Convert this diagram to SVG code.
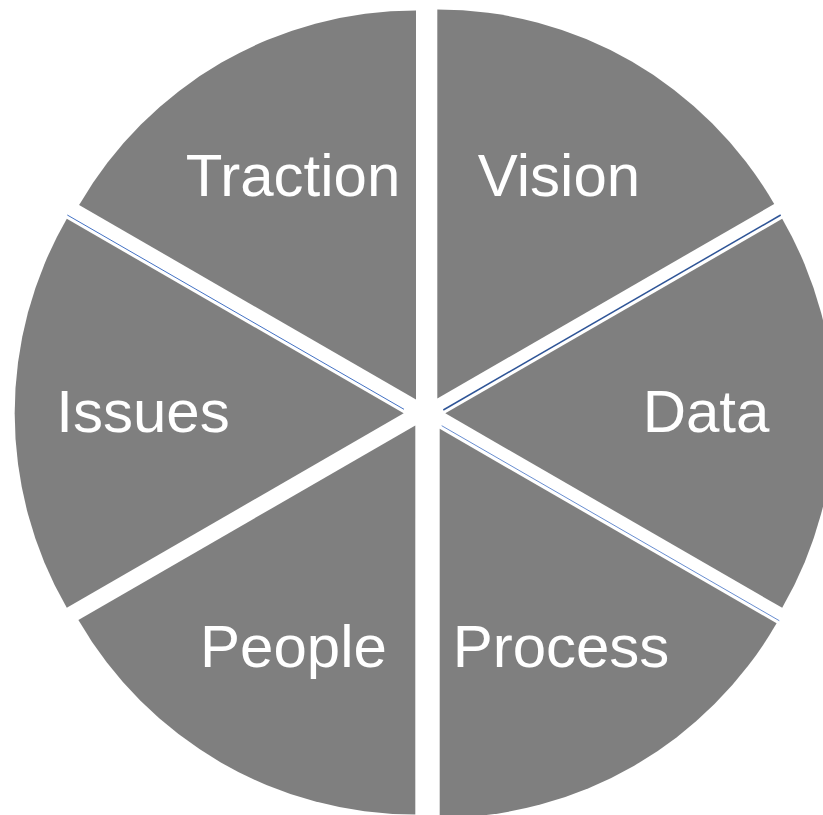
<svg xmlns="http://www.w3.org/2000/svg" width="823" height="815" viewBox="0 0 823 815">
  <style>
    .sector { fill: #7F7F7F; }
    .label { fill: #FFFFFF; font-family: "Liberation Sans", Arial, sans-serif; font-size: 60px; text-anchor: middle; }
    .edge { stroke: #4472C4; fill: none; stroke-width: 1; }
    .edge-dark { stroke: #2F5597; fill: none; stroke-width: 1.5; }
  </style>
  <rect width="823" height="815" fill="#FFFFFF"/>
  <g id="traction">
    <path class="sector" d="M416,399.5 L79.1,205 A389,389 0 0 1 416,10.5 Z"/>
    <text class="label" x="293" y="196">Traction</text>
  </g>
  <g id="vision">
    <path class="sector" d="M437.3,398.5 L437.3,9.5 A389,389 0 0 1 774.2,204 Z"/>
    <text class="label" x="559" y="196">Vision</text>
  </g>
  <g id="data">
    <path class="sector" d="M445.3,413.3 L782.2,218.8 A389,389 0 0 1 782.2,607.8 Z"/>
    <text class="label" x="706" y="432">Data</text>
  </g>
  <g id="process">
    <path class="sector" d="M439.7,428.8 L776.6,623.3 A389,389 0 0 1 439.7,817.8 Z"/>
    <text class="label" x="561" y="667">Process</text>
  </g>
  <g id="people">
    <path class="sector" d="M415.3,425.5 L415.3,814.5 A389,389 0 0 1 78.4,620 Z"/>
    <text class="label" x="293.5" y="667">People</text>
  </g>
  <g id="issues">
    <path class="sector" d="M403.7,413.3 L66.8,607.8 A389,389 0 0 1 66.8,218.8 Z"/>
    <text class="label" x="143" y="432">Issues</text>
  </g>
  <g id="connectors">
    <line class="edge" x1="67.3" y1="215" x2="404" y2="409.3"/>
    <line class="edge-dark" x1="443.3" y1="410" x2="780.7" y2="215"/>
    <line class="edge" x1="441.7" y1="425.7" x2="779.3" y2="620.7" stroke-opacity="0.8"/>
  </g>
</svg>
